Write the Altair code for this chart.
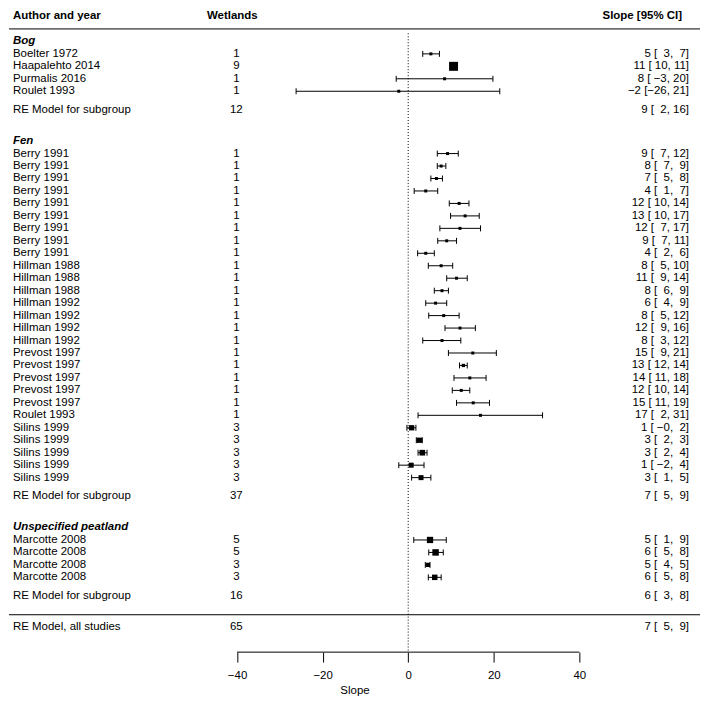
import altair as alt
import pandas as pd

FONT = "Liberation Sans"
FS = 11.5

# ---------------- data ----------------
bog_authors = ["Boelter 1972", "Haapalehto 2014", "Purmalis 2016", "Roulet 1993"]
bog_wetlands = [1, 9, 1, 1]
bog_est = [5.3, 10.6, 8.5, -2.2]
bog_lb = [3.4, 10.1, -2.8, -26.2]
bog_ub = [7.3, 11.1, 19.8, 21.4]
bog_box = [3, 9, 3, 3]
bog_re = [9.0, 1.8, 16.2]
bog_re_n = 12

fen_authors = ["Berry 1991", "Berry 1991", "Berry 1991", "Berry 1991", "Berry 1991",
               "Berry 1991", "Berry 1991", "Berry 1991", "Berry 1991",
               "Hillman 1988", "Hillman 1988", "Hillman 1988",
               "Hillman 1992", "Hillman 1992", "Hillman 1992", "Hillman 1992",
               "Prevost 1997", "Prevost 1997", "Prevost 1997", "Prevost 1997", "Prevost 1997",
               "Roulet 1993",
               "Silins 1999", "Silins 1999", "Silins 1999", "Silins 1999", "Silins 1999"]
fen_wetlands = [1, 1, 1, 1, 1, 1, 1, 1, 1, 1, 1, 1, 1, 1, 1, 1, 1, 1, 1, 1, 1, 1, 3, 3, 3, 3, 3]
fen_est = [9.2, 7.7, 6.6, 4.1, 11.9, 13.3, 12.1, 9.0, 4.1, 7.7, 11.3, 7.9, 6.4, 8.3, 12.1, 7.9,
           15.1, 12.9, 14.4, 12.4, 15.2, 16.9, 0.8, 2.6, 3.3, 0.7, 3.0]
fen_lb = [6.8, 6.8, 5.3, 1.4, 9.6, 9.9, 7.4, 6.9, 2.2, 4.7, 9.0, 6.1, 4.1, 4.8, 8.6, 3.4,
          9.4, 12.0, 10.7, 10.3, 11.3, 2.3, -0.3, 1.9, 2.3, -2.2, 0.8]
fen_ub = [11.7, 8.8, 8.0, 6.9, 14.2, 16.6, 16.9, 11.3, 6.1, 10.4, 13.8, 9.4, 9.0, 11.9, 15.7, 12.3,
          20.6, 13.8, 18.2, 14.4, 19.0, 31.4, 1.8, 3.3, 4.4, 3.7, 5.3]
fen_box = [3, 3, 3, 3, 3, 3, 3, 3, 3, 3, 3, 3, 3, 3, 3, 3, 3, 3.3, 3, 3, 3, 3, 5.3, 5.3, 5.7, 5, 5]
fen_re = [7.0, 4.9, 9.1]
fen_re_n = 37

unsp_authors = ["Marcotte 2008", "Marcotte 2008", "Marcotte 2008", "Marcotte 2008"]
unsp_wetlands = [5, 5, 3, 3]
unsp_est = [5.1, 6.4, 4.6, 6.2]
unsp_lb = [1.3, 4.8, 4.0, 4.7]
unsp_ub = [8.9, 8.2, 5.1, 7.7]
unsp_box = [6.3, 6.5, 4.3, 5.5]
unsp_re = [5.6, 3.3, 7.9]
unsp_re_n = 16

all_re = [7.0, 5.1, 9.1]
all_re_n = 65

group_names = ["Bog", "Fen", "Unspecified peatland"]
x_ticks = [-40, -20, 0, 20, 40]

# ---------------- table building ----------------
groups = [
    (group_names[0], bog_authors, bog_wetlands, bog_est, bog_lb, bog_ub, bog_box, bog_re, bog_re_n),
    (group_names[1], fen_authors, fen_wetlands, fen_est, fen_lb, fen_ub, fen_box, fen_re, fen_re_n),
    (group_names[2], unsp_authors, unsp_wetlands, unsp_est, unsp_lb, unsp_ub, unsp_box, unsp_re, unsp_re_n),
]

studies, models, headings = [], [], []
r = -1.0
for name, au, wn, es, lo, hi, bx, re, ren in groups:
    headings.append({"r": r, "name": name})
    r += 1
    for i in range(len(au)):
        studies.append({"r": r, "author": au[i], "wet": str(wn[i]), "est": es[i],
                        "lb": lo[i], "ub": hi[i], "area": bx[i] ** 2})
        r += 1
    r += 0.5
    models.append({"r": r, "author": "RE Model for subgroup", "wet": str(ren),
                   "est": re[0], "lb": re[1], "ub": re[2]})
    r += 2.5
hline_r = models[-1]["r"] + 1.5
all_r = models[-1]["r"] + 2.5
models.append({"r": all_r, "author": "RE Model, all studies", "wet": str(all_re_n),
               "est": all_re[0], "lb": all_re[1], "ub": all_re[2]})
axis_r = all_r + 2

rows = studies + models
f0 = lambda v: f"{v:.0f}"
we = max(len(f0(d["est"])) for d in rows)
wl = max(len(f0(d["lb"])) for d in rows)
wu = max(len(f0(d["ub"])) for d in rows)
for d in rows:
    s = f"{f0(d['est']).rjust(we)} [{f0(d['lb']).rjust(wl)}, {f0(d['ub']).rjust(wu)}]"
    d["ci"] = s.replace(" ", "\u00a0").replace("-", "\u2212")

df_st = pd.DataFrame(studies)
df_rows = pd.DataFrame(rows)
df_head = pd.DataFrame(headings)

caps = pd.DataFrame({"r": list(df_st["r"]) * 2, "x": list(df_st["lb"]) + list(df_st["ub"])})

dia = []
for i, d in enumerate(models):
    dia.append({"id": i, "k": 0, "x": d["lb"], "y1": d["r"], "y2": d["r"]})
    dia.append({"id": i, "k": 1, "x": d["est"], "y1": d["r"] - 0.48, "y2": d["r"] + 0.48})
    dia.append({"id": i, "k": 2, "x": d["ub"], "y1": d["r"], "y2": d["r"]})
df_dia = pd.DataFrame(dia)

df_ref = pd.DataFrame({"x": [0], "r1": [-1.65], "r2": [axis_r]})
df_axis = pd.DataFrame({"x1": [x_ticks[0]], "x2": [x_ticks[-1]], "r": [axis_r]})
df_hl = pd.DataFrame({"r": [-2, hline_r]})
df_hdr = pd.DataFrame({"r": [-3]})

# ---------------- chart ----------------
W, H = 693, 645
xs = alt.Scale(domain=[-93.3, 68.2], nice=False, zero=False)
ys = alt.Scale(domain=[-3.6, axis_r], reverse=True, nice=False, zero=False)
xaxis = alt.Axis(values=x_ticks, domain=False, grid=False, tickSize=10, tickColor="black",
                 tickWidth=1, labelFont=FONT, labelFontSize=FS, labelColor="black",
                 labelPadding=7, labelFlush=False, labelOverlap=False, title="Slope",
                 titleFont=FONT, titleFontSize=FS, titleFontWeight="normal",
                 titleColor="black", titlePadding=4)


def X(f):
    return alt.X(f, type="quantitative", scale=xs, axis=xaxis)


def Y(f):
    return alt.Y(f, type="quantitative", scale=ys, axis=None)


ci_lines = alt.Chart(df_st).mark_rule(color="black", strokeWidth=1).encode(
    x=X("lb"), x2="ub", y=Y("r"))
ci_caps = alt.Chart(caps).mark_rule(color="black", strokeWidth=1, yOffset=-3, y2Offset=3).encode(
    x=X("x"), y=Y("r"), y2="r")
squares = alt.Chart(df_st).mark_square(color="black", filled=True, opacity=1).encode(
    x=X("est"), y=Y("r"), size=alt.Size("area:Q", scale=None, legend=None))
diamonds = alt.Chart(df_dia).mark_area(color="black", orient="vertical", opacity=1).encode(
    x=X("x"), y=Y("y1"), y2="y2", detail="id:N", order="k:Q")
refline = alt.Chart(df_ref).mark_rule(color="black", strokeWidth=1, strokeDash=[1, 2]).encode(
    x=X("x"), y=Y("r1"), y2="r2")
axisline = alt.Chart(df_axis).mark_rule(color="black", strokeWidth=1).encode(
    x=X("x1"), x2="x2", y=Y("r"))
hlines = alt.Chart(df_hl).mark_rule(color="black", strokeWidth=1).encode(
    x=alt.value(0), x2=alt.value(W), y=Y("r"))

txt = dict(font=FONT, fontSize=FS, color="black", baseline="middle")
t_author = alt.Chart(df_rows).mark_text(align="left", **txt).encode(
    x=alt.value(4), y=Y("r"), text="author:N")
t_wet = alt.Chart(df_rows).mark_text(align="center", **txt).encode(
    x=alt.value(228), y=Y("r"), text="wet:N")
t_ci = alt.Chart(df_rows).mark_text(align="right", **txt).encode(
    x=alt.value(682), y=Y("r"), text="ci:N")
t_head = alt.Chart(df_head).mark_text(align="left", fontWeight="bold", fontStyle="italic", **txt).encode(
    x=alt.value(4), y=Y("r"), text="name:N")
t_h1 = alt.Chart(df_hdr).mark_text(align="left", fontWeight="bold", text="Author and year", **txt).encode(
    x=alt.value(4), y=Y("r"))
t_h2 = alt.Chart(df_hdr).mark_text(align="center", fontWeight="bold", text="Wetlands", **txt).encode(
    x=alt.value(224), y=Y("r"))
t_h3 = alt.Chart(df_hdr).mark_text(align="right", fontWeight="bold", text="Slope [95% CI]", **txt).encode(
    x=alt.value(675), y=Y("r"))

chart = alt.layer(
    axisline, refline, hlines, ci_lines, ci_caps, squares, diamonds,
    t_author, t_wet, t_ci, t_head, t_h1, t_h2, t_h3
).properties(width=W, height=H, padding=0).configure(font=FONT).configure_view(stroke=None)

chart.save("out.html", embed_options={"renderer": "svg", "actions": False})
